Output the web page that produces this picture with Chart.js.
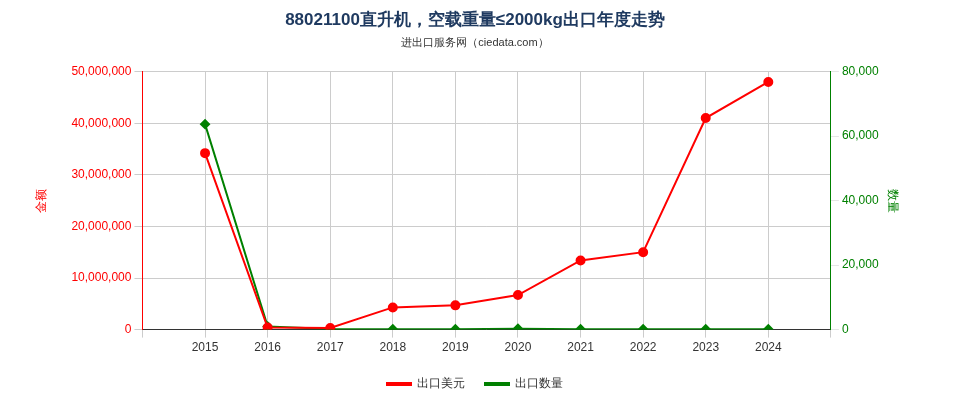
<!DOCTYPE html>
<html>
<head>
<meta charset="utf-8">
<script src="https://cdn.jsdelivr.net/npm/chart.js@4/dist/chart.umd.min.js"></script>
<style>
  body { margin: 0; background: #fff; }
</style>
</head>
<body>
<canvas id="c" width="960" height="400"></canvas>
<script>
// 年份（两端留空位）
const years = ["", "2015", "2016", "2017", "2018", "2019", "2020", "2021", "2022", "2023", "2024", ""];
const usd = [null, 34200000, 400000, 300000, 4300000, 4700000, 6700000, 13400000, 15000000, 41000000, 48000000, null];
const qty = [null, 63700, 1000, 200, 100, 100, 300, 100, 100, 100, 100, null];

const ctx = document.getElementById("c").getContext("2d");
new Chart(ctx, {
  type: "line",
  data: {
    labels: years,
    datasets: [{
      label: "出口美元",
      data: usd,
      yAxisID: "y",
      borderColor: "#ff0000",
      backgroundColor: "#ff0000",
      borderWidth: 2,
      pointRadius: 4,
      pointStyle: "circle",
      tension: 0
    }, {
      label: "出口数量",
      data: qty,
      yAxisID: "y1",
      borderColor: "#008000",
      backgroundColor: "#008000",
      borderWidth: 2,
      pointRadius: 4,
      pointStyle: "rectRot",
      tension: 0
    }]
  },
  options: {
    responsive: false,
    animation: false,
    layout: { padding: { left: 30, right: 40, top: 0, bottom: 0 } },
    scales: {
      x: {
        offset: false,
        ticks: { color: "#333", font: { size: 12 }, maxRotation: 0, autoSkip: false },
        grid: { color: "#ccc" },
        border: { color: "#333" }
      },
      y: {
        position: "left",
        min: 0, max: 50000000,
        ticks: { stepSize: 10000000, color: "#ff0000", font: { size: 12 } },
        grid: { color: "#ccc" },
        border: { color: "#ff0000" },
        title: { display: true, text: "金额", color: "#ff0000", font: { size: 12 }, padding: { bottom: 20 } }
      },
      y1: {
        position: "right",
        min: 0, max: 80000,
        ticks: { stepSize: 20000, color: "#008000", font: { size: 12 } },
        grid: { drawOnChartArea: false },
        border: { color: "#008000" },
        title: { display: true, text: "数量", color: "#008000", font: { size: 12 }, padding: { top: 20 } }
      }
    },
    plugins: {
      title: {
        display: true,
        text: "88021100直升机，空载重量≤2000kg出口年度走势",
        color: "#1f3a60",
        font: { size: 17, weight: "bold" },
        padding: { top: 10, bottom: 6 }
      },
      subtitle: {
        display: true,
        text: "进出口服务网（ciedata.com）",
        color: "#333",
        font: { size: 11 },
        padding: { bottom: 22 }
      },
      legend: {
        position: "bottom",
        labels: { boxWidth: 24, boxHeight: 2, color: "#333", font: { size: 12 }, padding: 20 }
      }
    }
  }
});
</script>
</body>
</html>
